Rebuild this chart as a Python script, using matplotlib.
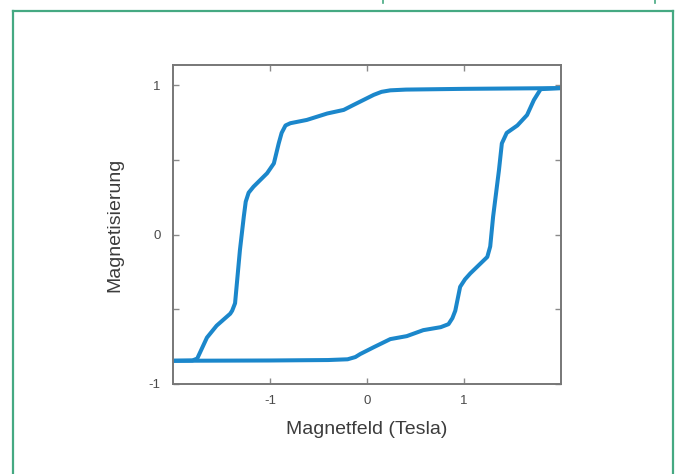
import matplotlib
matplotlib.use("Agg")
import matplotlib.pyplot as plt
from matplotlib.lines import Line2D

plt.rcParams['font.family'] = ['Liberation Sans', 'DejaVu Sans']

# descending field branch (from +2 T down to -2 T)
upper_x = [2.0, 1.0, 0.4, 0.24, 0.15, 0.07, -0.14, -0.24, -0.41, -0.62, -0.79, -0.84,
           -0.88, -0.91, -0.96, -1.03, -1.17, -1.22, -1.25, -1.27, -1.31, -1.36, -1.39,
           -1.41, -1.55, -1.65, -1.75, -1.80, -2.0]
upper_y = [0.98, 0.975, 0.97, 0.965, 0.955, 0.935, 0.867, 0.834, 0.81, 0.767, 0.745, 0.73,
           0.68, 0.61, 0.476, 0.41, 0.32, 0.28, 0.22, 0.12, -0.105, -0.46, -0.51,
           -0.53, -0.61, -0.69, -0.83, -0.843, -0.845]

# ascending field branch (from -2 T up to +2 T)
lower_x = [-2.0, -1.0, -0.4, -0.2, -0.12, -0.07, 0.07, 0.24, 0.41, 0.58, 0.76, 0.84,
           0.88, 0.91, 0.96, 1.01, 1.065, 1.24, 1.27, 1.30, 1.36, 1.39, 1.44, 1.55,
           1.65, 1.72, 1.79, 2.0]
lower_y = [-0.845, -0.843, -0.84, -0.835, -0.82, -0.80, -0.754, -0.70, -0.68, -0.64, -0.62, -0.60,
           -0.56, -0.51, -0.35, -0.30, -0.26, -0.15, -0.08, 0.12, 0.43, 0.61, 0.68, 0.73,
           0.80, 0.90, 0.973, 0.98]

xticks = [-1, 0, 1]
yticks = [-1, -0.5, 0, 0.5, 1]
ytick_labels = ['-1', '', '0', '', '1']

fig = plt.figure(figsize=(6.77, 4.74), dpi=100)
ax = fig.add_axes([0.2555, 0.19, 0.5732, 0.673])

blue = '#1b87cb'
ax.plot(upper_x, upper_y, color=blue, lw=2.9, solid_joinstyle='round', solid_capstyle='round')
ax.plot(lower_x, lower_y, color=blue, lw=2.9, solid_joinstyle='round', solid_capstyle='round')

ax.set_xlim(-2, 2)
ax.set_ylim(-1, 1.135)
ax.set_xticks(xticks)
ax.set_xticklabels([str(t) for t in xticks])
ax.set_yticks(yticks)
ax.set_yticklabels(ytick_labels)

for s in ax.spines.values():
    s.set_color('#777777')
    s.set_linewidth(1.4)
ax.tick_params(direction='in', length=4, width=1, color='#8a8a8a',
               top=True, right=True, labelsize=9.5, labelcolor='#4a4a4a')
ax.tick_params(axis='y', pad=9)
ax.tick_params(axis='x', pad=8)

ax.set_xlabel('Magnetfeld (Tesla)', fontsize=14, color='#3c3c3c', va='center')
ax.xaxis.set_label_coords(0.5, -0.144)
ax.set_ylabel('Magnetisierung', fontsize=14, color='#3c3c3c', va='center')
ax.yaxis.set_label_coords(-0.149, 0.5)

# green frame around the figure
green = '#45a982'
W, H = 677.0, 474.0
fig.add_artist(Line2D([13 / W, 13 / W], [0, 1 - 11 / H], color=green, lw=1.6))
fig.add_artist(Line2D([13 / W, 673 / W], [1 - 11 / H, 1 - 11 / H], color=green, lw=1.6))
fig.add_artist(Line2D([673 / W, 673 / W], [0, 1 - 11 / H], color=green, lw=1.6))
for mx in [383, 655]:
    fig.add_artist(Line2D([mx / W, mx / W], [1, 1 - 3 / H], color=green, lw=1.2))

fig.savefig('out.png', dpi=100)
